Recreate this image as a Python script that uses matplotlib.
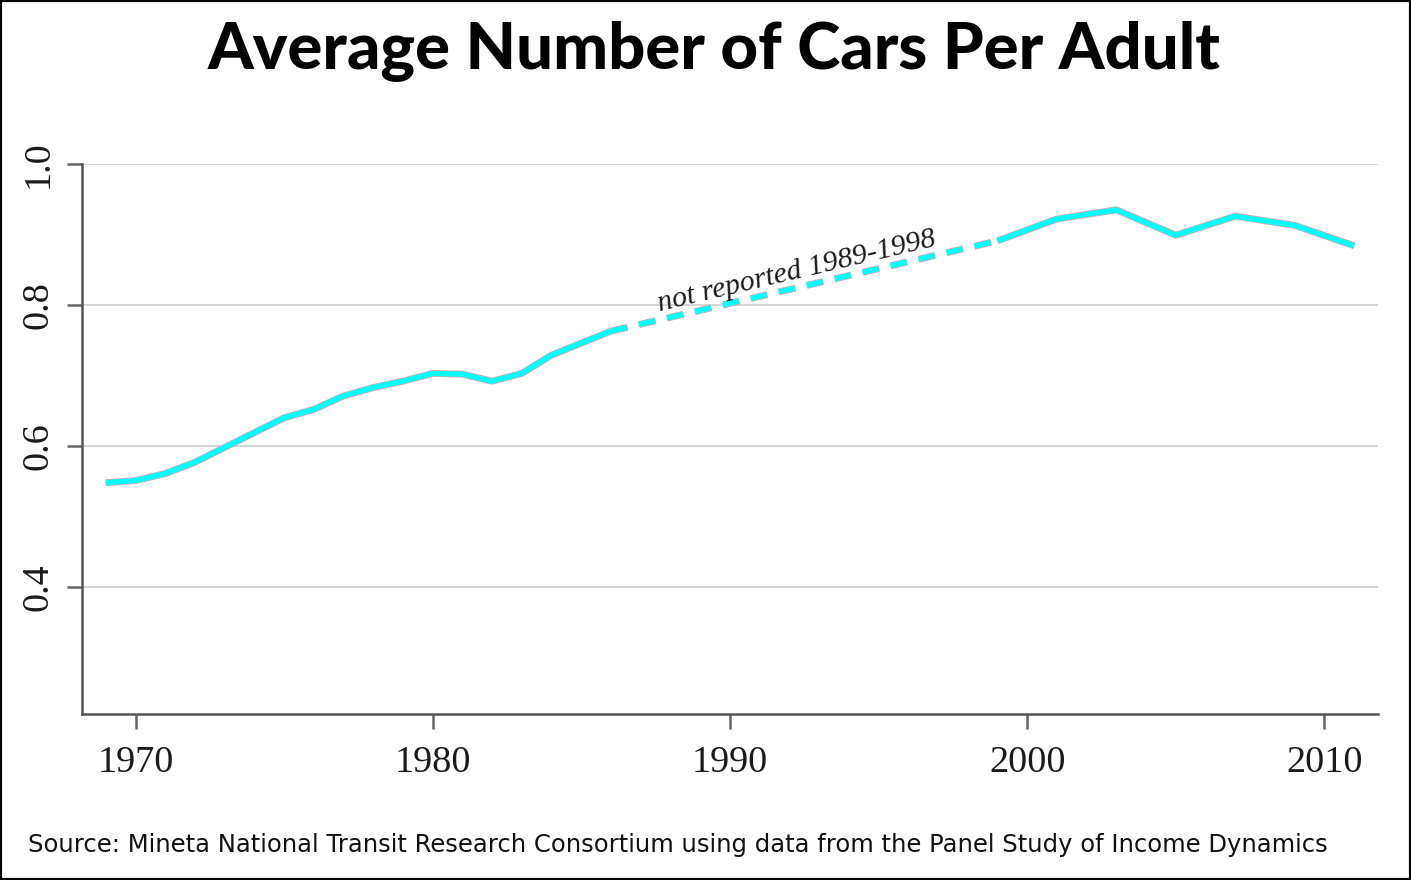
import numpy as np
import matplotlib
matplotlib.use("Agg")
import matplotlib.pyplot as plt
import matplotlib.patheffects as pe

# data
years_early = [1969, 1970, 1971, 1972, 1973, 1974, 1975, 1976, 1977, 1978,
               1979, 1980, 1981, 1982, 1983, 1984, 1985, 1986]
cars_early = [0.548, 0.551, 0.561, 0.577, 0.598, 0.619, 0.640, 0.652, 0.671, 0.683,
              0.692, 0.703, 0.702, 0.692, 0.703, 0.729, 0.746, 0.763]
years_late = [1999, 2001, 2003, 2005, 2007, 2009, 2011]
cars_late = [0.891, 0.922, 0.935, 0.899, 0.926, 0.913, 0.884]
gap_years = [years_early[-1], years_late[0]]
gap_cars = [cars_early[-1], cars_late[0]]

x_ticks = [1970, 1980, 1990, 2000, 2010]
y_ticks = [0.4, 0.6, 0.8, 1.0]

W, H = 1411, 880
fig = plt.figure(figsize=(W / 100, H / 100), dpi=100)
fig.patch.set_facecolor("white")
ax = fig.add_axes([82 / W, 1 - 714 / H, (1378 - 82) / W, (714 - 164) / H])

line_col = "#00ffff"
outline = [pe.Stroke(linewidth=5.0, foreground="#e8a0a0"), pe.Normal()]
ax.plot(years_early, cars_early, color=line_col, lw=3.9, solid_capstyle="butt",
        path_effects=outline, zorder=3)
ax.plot(years_late, cars_late, color=line_col, lw=3.9, solid_capstyle="butt",
        path_effects=outline, zorder=3)
ax.plot(gap_years, gap_cars, color=line_col, lw=3.9, dashes=(3.1, 2.2),
        dash_capstyle="butt", path_effects=outline, zorder=3)

ax.text(1992.3, 0.838, "not reported 1989-1998", rotation=13.3,
        rotation_mode="anchor", ha="center", va="baseline",
        family="Liberation Serif", style="italic", fontsize=21.5, color="#1a1a1a")

ax.set_xlim(1968.2, 2011.8)
ax.set_ylim(0.22, 1.0)
ax.set_xticks(x_ticks)
ax.set_yticks(y_ticks)
ax.set_yticklabels([f"{v:.1f}" for v in y_ticks], rotation=90, va="center")
ax.grid(axis="y", color="#d4d4d4", lw=1.4)
ax.set_axisbelow(True)
for lab in ax.get_xticklabels() + ax.get_yticklabels():
    lab.set_family("Liberation Serif")
    lab.set_fontsize(27.5)
    lab.set_color("#1a1a1a")
ax.tick_params(axis="both", direction="out", length=11, width=1.8,
               color="#666666", pad=8)
ax.tick_params(axis="x", pad=12)
for s in ["top", "right"]:
    ax.spines[s].set_visible(False)
for s in ["left", "bottom"]:
    ax.spines[s].set_color("#555555")
    ax.spines[s].set_linewidth(1.8)

fig.text(0.506, 1 - 52 / H, "Average Number of Cars Per Adult", ha="center",
         va="center", family="Lato", weight="black", fontsize=47)
fig.text(28 / W, 1 - 845 / H,
         "Source: Mineta National Transit Research Consortium using data from the Panel Study of Income Dynamics",
         ha="left", va="center", family="DejaVu Sans", fontsize=17.5, color="#111111")

frame = plt.Rectangle((0, 0), 1, 1, transform=fig.transFigure, fill=False,
                      edgecolor="black", lw=3, zorder=10)
fig.add_artist(frame)

fig.savefig("out.png", dpi=100)
